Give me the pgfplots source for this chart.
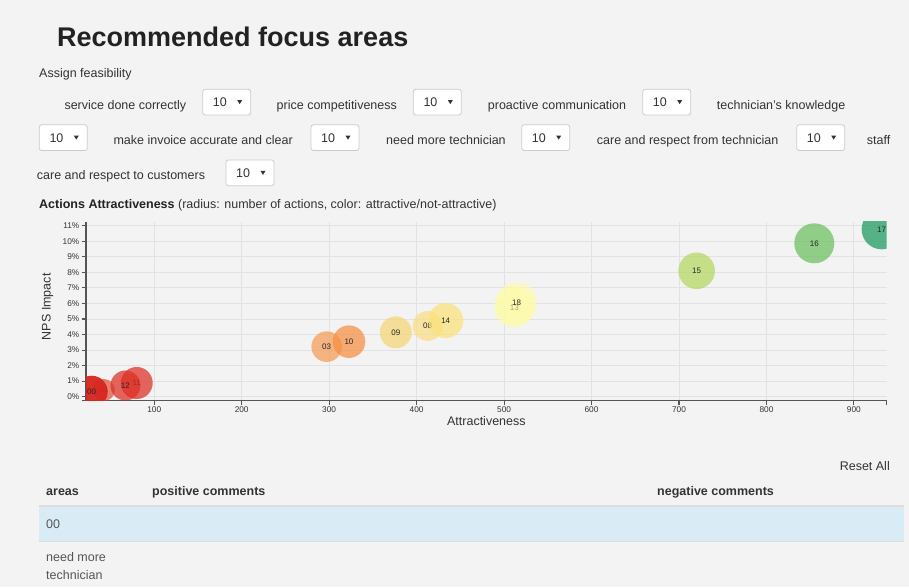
\documentclass[border=0pt]{standalone}
\usepackage{pgfplots}
\pgfplotsset{compat=1.18}
\usepackage{fontspec}
\setmainfont{Liberation Sans}

\definecolor{pagebg}{HTML}{F3F3F3}
\definecolor{titlegray}{HTML}{222222}
\definecolor{textgray}{HTML}{333333}
\definecolor{softgray}{HTML}{555555}
\definecolor{boxborder}{HTML}{CCCCCC}
\definecolor{axisgray}{HTML}{555555}
\definecolor{gridgray}{HTML}{E2E2E2}
\definecolor{rowblue}{HTML}{D9ECF6}
\definecolor{rule}{HTML}{DDDDDD}
% bubble colours (red -> yellow -> green)
\definecolor{cDeep}{HTML}{D7261E}
\definecolor{cRed}{HTML}{DD2E24}
\definecolor{cRedLt}{HTML}{E2563F}
\definecolor{cOrA}{HTML}{F39C56}
\definecolor{cOrB}{HTML}{F68E41}
\definecolor{cYlA}{HTML}{F5D674}
\definecolor{cYlB}{HTML}{FADE83}
\definecolor{cYlC}{HTML}{FAE179}
\definecolor{cPale}{HTML}{FEFCA8}
\definecolor{cGrA}{HTML}{B2D85F}
\definecolor{cGrB}{HTML}{6ABF5E}
\definecolor{cGrC}{HTML}{1A9A5D}

\newcommand{\fs}[1]{\fontsize{#1}{#1}\selectfont}

% a dropdown showing "10"
\newcommand{\selbox}[2]{%
  \draw[boxborder, fill=white, rounded corners=2.5pt, line width=0.8pt] (#1,#2) rectangle ++(48,25.7);
  \node[anchor=base west, inner sep=0, text=textgray, font=\fs{12.5}] at (#1+10,#2+17.3) {10};
  \fill[textgray] (#1+34.5,#2+10.8) -- (#1+39.5,#2+10.8) -- (#1+37,#2+14.8) -- cycle;
}

\begin{document}
\begin{tikzpicture}
\useasboundingbox (0pt,0pt) rectangle (909pt,-587pt);
\fill[pagebg] (0pt,0pt) rectangle (909pt,-587pt);

\begin{scope}[x=1pt,y=-1pt]
  % heading
  \node[anchor=base west, inner sep=0, text=titlegray, font=\bfseries\fs{27}] at (57,46.5) {Recommended focus areas};
  \node[anchor=base west, inner sep=0, text=textgray, font=\fs{12.5}] at (39,77) {Assign feasibility};

  % feasibility selectors
  \begin{scope}[every node/.style={anchor=base west, inner sep=0, text=textgray, font=\fs{12.5}}]
    \node at (64.3,109.5) {service done correctly};
    \node at (276.5,109.5) {price competitiveness};
    \node at (487.7,109.5) {proactive communication};
    \node at (716.7,109.5) {technician's knowledge};
    \node at (113.3,144) {make invoice accurate and clear};
    \node at (386,144) {need more technician};
    \node at (596.7,144) {care and respect from technician};
    \node at (866.7,144) {staff};
    \node at (36.7,179.5) {care and respect to customers};
  \end{scope}
  \selbox{202.7}{89.3}
  \selbox{413.3}{89.3}
  \selbox{642.7}{89.3}
  \selbox{39.3}{124.8}
  \selbox{311}{124.8}
  \selbox{521.7}{124.8}
  \selbox{796.7}{124.8}
  \selbox{226}{160}

  % chart caption
  \node[anchor=base west, inner sep=0, text=textgray, font=\fs{12.5}] at (39,208)
    {\textcolor{titlegray}{\bfseries Actions Attractiveness} (radius: number of actions, color: attractive/not-attractive)};

  % comments table
  \node[anchor=base east, inner sep=0, text=textgray, font=\fs{12.5}] at (890,470) {Reset All};
  \begin{scope}[every node/.style={anchor=base west, inner sep=0, text=textgray, font=\bfseries\fs{12.5}}]
    \node at (46,495) {areas};
    \node at (152,495) {positive comments};
    \node at (657,495) {negative comments};
  \end{scope}
  \fill[rowblue] (39,506.5) rectangle (904,541);
  \draw[rule, line width=1.5pt] (39,506) -- (904,506);
  \draw[rule, line width=0.8pt] (39,541.5) -- (904,541.5);
  \begin{scope}[every node/.style={anchor=base west, inner sep=0, text=softgray, font=\fs{12.5}}]
    \node at (46,528.5) {00};
    \node at (46,561.5) {need more};
    \node at (46,579.5) {technician};
  \end{scope}
\end{scope}

\begin{axis}[
  at={(86pt,-400.7pt)}, anchor=south west,
  scale only axis, width=800.7pt, height=179pt,
  xmin=22, xmax=937.5, ymin=-0.26, ymax=11.26,
  axis lines*=left,
  axis line style={draw=axisgray, line width=1.1pt, -},
  xtick={100,200,...,900},
  xticklabels={100,200,300,400,500,600,700,800,900},
  ytick={0,1,...,11},
  yticklabels={0\%,1\%,2\%,3\%,4\%,5\%,6\%,7\%,8\%,9\%,10\%,11\%},
  extra x ticks={937.5}, extra x tick labels={},
  extra y ticks={-0.26}, extra y tick labels={},
  extra tick style={grid=none},
  tick align=outside, major tick length=4.5pt,
  tick style={draw=axisgray, line width=1.1pt},
  grid=major,
  major grid style={draw=gridgray, line width=0.9pt},
  tick label style={font=\fs{8.3}, text=textgray},
  xticklabel style={inner sep=1.5pt},
  yticklabel style={inner sep=2pt},
  xlabel={Attractiveness},
  ylabel={NPS Impact},
  label style={font=\fs{12.5}, text=textgray},
  xlabel style={at={(axis description cs:0.5,0)}, anchor=north, inner sep=0, yshift=-15.5pt},
  ylabel style={at={(axis description cs:-0.0441,0.525)}, anchor=base, inner sep=0, rotate=0},
  clip=true, clip marker paths=true,
  bubble/.style n args={3}{only marks, mark=*, draw=none,
    mark options={draw=none, draw opacity=0, fill=#1, fill opacity=#3},
    nodes near coords={#2}, nodes near coords align={center},
    every node near coord/.append style={font=\fs{8}, text=black!85, inner sep=0,
      fill opacity=1, text opacity=1, draw=none}},
]
% one bubble per action: (attractiveness, NPS impact %), radius = number of actions
\addplot[bubble={cRedLt}{01}{0.72}, mark size=11pt]   coordinates {(42.5,0.43)};
\addplot[bubble={cDeep}{00}{0.95}, mark size=16pt]    coordinates {(28.5,0.32)};
\addplot[bubble={cRed}{11}{0.72}, mark size=16pt]     coordinates {(80,0.88)};
\addplot[bubble={cRed}{12}{0.72}, mark size=15pt]     coordinates {(67.1,0.72)};
\addplot[bubble={cOrA}{03}{0.72}, mark size=15.3pt]   coordinates {(297.2,3.22)};
\addplot[bubble={cOrB}{10}{0.72}, mark size=16.3pt]   coordinates {(322.7,3.54)};
\addplot[bubble={cYlA}{09}{0.72}, mark size=16pt]     coordinates {(376.2,4.14)};
\addplot[bubble={cYlB}{08}{0.72}, mark size=15pt]     coordinates {(412.6,4.55)};
\addplot[bubble={cYlC}{14}{0.72}, mark size=17.5pt]   coordinates {(433.3,4.9)};
\addplot[bubble={cPale}{13}{0.72}, mark size=20pt]    coordinates {(511.7,5.75)};
\addplot[bubble={cPale}{18}{0.6}, mark size=20.5pt]   coordinates {(514.4,6.05)};
\addplot[bubble={cGrA}{15}{0.72}, mark size=18.3pt]   coordinates {(720.2,8.1)};
\addplot[bubble={cGrB}{16}{0.72}, mark size=20pt]     coordinates {(854.7,9.87)};
\addplot[bubble={cGrC}{17}{0.72}, mark size=20pt]     coordinates {(931.7,10.77)};
\end{axis}
\end{tikzpicture}
\end{document}
